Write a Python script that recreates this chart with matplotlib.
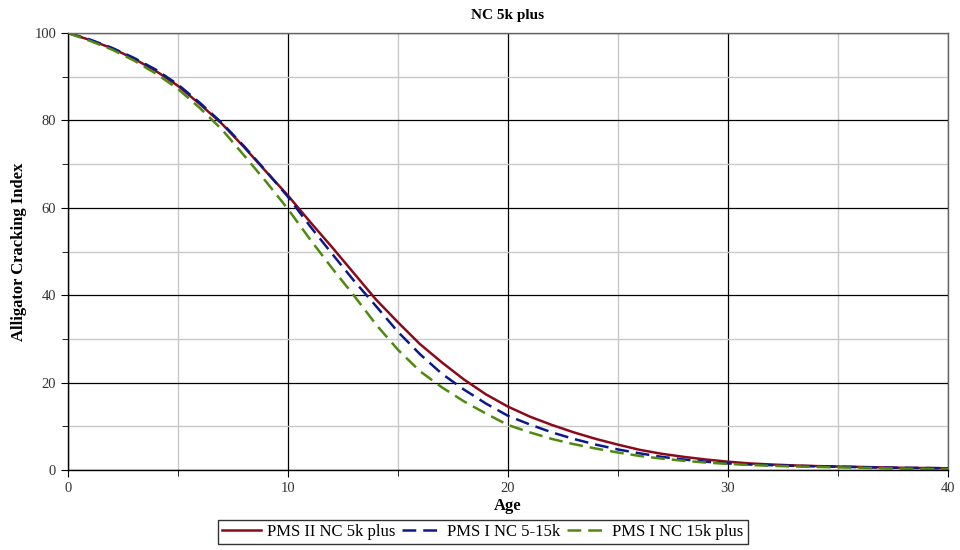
import matplotlib
matplotlib.use("Agg")
import matplotlib.pyplot as plt
from matplotlib.ticker import MultipleLocator

plt.rcParams['font.family'] = ['Liberation Serif', 'DejaVu Serif']

age = list(range(0, 41))

pms2_nc_5k_plus = [
    100.0, 98.4, 96.5, 94.1, 91.3, 87.9, 83.7, 79.2, 73.9, 68.3,
    62.8, 56.8, 51.0, 45.0, 39.0, 33.8, 28.8, 24.6, 20.7, 17.3,
    14.5, 12.2, 10.3, 8.6, 7.1, 5.8, 4.6, 3.7, 3.0, 2.4,
    1.9, 1.5, 1.25, 1.05, 0.9, 0.8, 0.7, 0.6, 0.5, 0.45, 0.4,
]
pms1_nc_5_15k = [
    100.0, 98.5, 96.6, 94.3, 91.6, 88.2, 84.0, 79.4, 74.1, 68.4,
    62.5, 55.8, 49.5, 43.3, 37.5, 31.6, 26.5, 22.0, 18.4, 15.2,
    12.4, 10.4, 8.6, 7.1, 5.8, 4.7, 3.8, 3.0, 2.4, 1.9,
    1.5, 1.25, 1.1, 0.95, 0.85, 0.75, 0.65, 0.55, 0.5, 0.45, 0.4,
]
pms1_nc_15k_plus = [
    100.0, 98.2, 96.2, 93.7, 90.7, 87.2, 82.8, 77.9, 72.0, 66.0,
    59.7, 52.8, 46.2, 39.9, 33.3, 27.5, 22.6, 18.9, 15.7, 12.9,
    10.3, 8.6, 7.1, 5.9, 4.9, 4.0, 3.2, 2.6, 2.1, 1.7,
    1.4, 1.15, 0.95, 0.8, 0.7, 0.6, 0.5, 0.4, 0.3, 0.25, 0.2,
]

series_labels = ["PMS II NC 5k plus", "PMS I NC 5-15k", "PMS I NC 15k plus"]

fig = plt.figure(figsize=(9.6, 5.5), dpi=100)
ax = fig.add_axes([68 / 960, 1 - 470 / 550, 880 / 960, 437 / 550])

ax.plot(age, pms2_nc_5k_plus, color="#8B0A1A", lw=1.8, label=series_labels[0])
ax.plot(age, pms1_nc_5_15k, color="#0A1A8C", lw=1.8, dashes=(5.5, 2.8),
        label=series_labels[1])
ax.plot(age, pms1_nc_15k_plus, color="#4E8A0E", lw=1.8, dashes=(5.5, 2.8),
        label=series_labels[2])

ax.set_xlim(0, 40)
ax.set_ylim(0, 100)
ax.xaxis.set_major_locator(MultipleLocator(10))
ax.xaxis.set_minor_locator(MultipleLocator(5))
ax.yaxis.set_major_locator(MultipleLocator(20))
ax.yaxis.set_minor_locator(MultipleLocator(10))

ax.grid(which="major", color="#000000", lw=0.9)
ax.grid(which="minor", color="#c8c8c8", lw=1.0)
ax.set_axisbelow(True)

for side in ("top", "right"):
    ax.spines[side].set_visible(True)
    ax.spines[side].set_color("#666666")
    ax.spines[side].set_linewidth(1.0)
for side in ("left", "bottom"):
    ax.spines[side].set_color("#000000")
    ax.spines[side].set_linewidth(1.0)

ax.tick_params(which="both", direction="out", colors="#000000",
               labelcolor="#333333", labelsize=10.5)
ax.tick_params(which="major", length=5)
ax.tick_params(which="minor", length=4)

ax.set_title("NC 5k plus", fontsize=11, fontweight="bold", pad=10)
ax.set_xlabel("Age", fontsize=12, fontweight="bold", labelpad=2)
ax.set_ylabel("Alligator Cracking Index", fontsize=12, fontweight="bold",
              labelpad=5)

leg = fig.legend(loc="center", bbox_to_anchor=(483 / 960, 1 - 532 / 550),
                 ncol=3, fontsize=12, frameon=True, fancybox=False,
                 edgecolor="#000000", handlelength=2.3, handletextpad=0.4,
                 columnspacing=0.4, borderpad=0.25, borderaxespad=0)
leg.get_frame().set_linewidth(1.0)

fig.savefig("out.png", dpi=100)
